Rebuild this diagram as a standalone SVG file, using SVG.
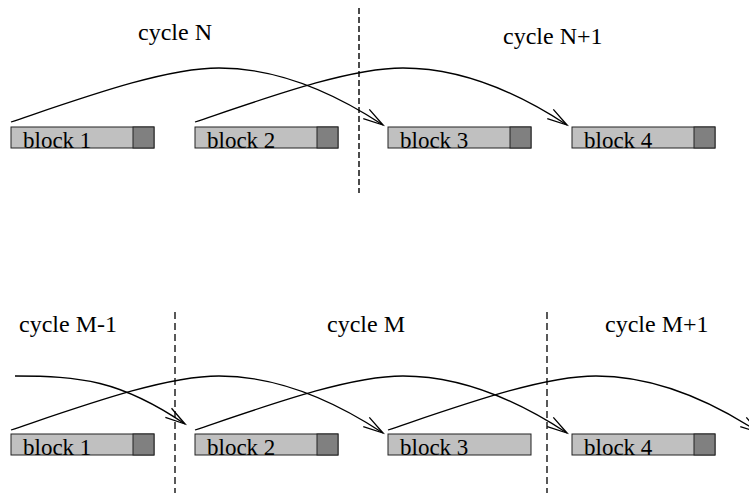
<svg xmlns="http://www.w3.org/2000/svg" width="749" height="493" viewBox="0 0 749 493">
<style>
.blk{fill:#c0c0c0;stroke:#222;stroke-width:1}
.tail{fill:#808080;stroke:#222;stroke-width:1}
.lbl{font-family:"Liberation Serif","Times New Roman",serif;font-size:23px;fill:#000}
.cyc{font-family:"Liberation Serif","Times New Roman",serif;font-size:24px;fill:#000}
.arc{fill:none;stroke:#000;stroke-width:1.3;marker-end:url(#arr)}
.dash1{stroke:#111;stroke-width:1.5;stroke-dasharray:6,3}
.dash2{stroke:#000;stroke-width:1.3;stroke-dasharray:7,4}
</style>
<defs>
<marker id="arr" markerUnits="userSpaceOnUse" markerWidth="26" markerHeight="16" viewBox="-23 -8 26 16" refX="0" refY="0" orient="auto" overflow="visible">
<path d="M-20,-5.5 L0,0 L-20,5.5" fill="none" stroke="#000" stroke-width="1.3"/>
</marker>
</defs>
<rect width="749" height="493" fill="#fff"/>

<g id="dividers">
<line class="dash1" x1="359" y1="8" x2="359" y2="193"/>
<line class="dash2" x1="175" y1="312" x2="175" y2="493"/>
<line class="dash2" x1="547" y1="312" x2="547" y2="493"/>
</g>

<g id="labels">
<text class="cyc" x="138" y="40">cycle N</text>
<text class="cyc" x="503" y="44">cycle N+1</text>
<text class="cyc" x="19" y="332">cycle M-1</text>
<text class="cyc" x="327" y="332">cycle M</text>
<text class="cyc" x="605" y="332">cycle M+1</text>
</g>

<g id="top-block1"><rect class="blk" x="11" y="127" width="143" height="21"/><rect class="tail" x="133" y="127" width="21" height="21"/><text class="lbl" x="23" y="147.5">block 1</text></g>
<g id="top-block2"><rect class="blk" x="195" y="127" width="143" height="21"/><rect class="tail" x="317" y="127" width="21" height="21"/><text class="lbl" x="207" y="147.5">block 2</text></g>
<g id="top-block3"><rect class="blk" x="388" y="127" width="143" height="21"/><rect class="tail" x="510" y="127" width="21" height="21"/><text class="lbl" x="400" y="147.5">block 3</text></g>
<g id="top-block4"><rect class="blk" x="572" y="127" width="143" height="21"/><rect class="tail" x="694" y="127" width="21" height="21"/><text class="lbl" x="584" y="147.5">block 4</text></g>

<g id="bot-block1"><rect class="blk" x="11" y="434" width="143" height="21"/><rect class="tail" x="133" y="434" width="21" height="21"/><text class="lbl" x="23" y="454.5">block 1</text></g>
<g id="bot-block2"><rect class="blk" x="195" y="434" width="143" height="21"/><rect class="tail" x="317" y="434" width="21" height="21"/><text class="lbl" x="207" y="454.5">block 2</text></g>
<g id="bot-block3"><rect class="blk" x="388" y="434" width="143" height="21"/><text class="lbl" x="400" y="454.5">block 3</text></g>
<g id="bot-block4"><rect class="blk" x="572" y="434" width="143" height="21"/><rect class="tail" x="694" y="434" width="21" height="21"/><text class="lbl" x="584" y="454.5">block 4</text></g>

<g id="connectors">
<path class="arc" d="M11,122 C85,97 165,68 219,68 C285,68 345,100 383,125"/>
<path class="arc" d="M195,122 C269,97 349,68 403,68 C469,68 529,100 567,125"/>
<path class="arc" d="M15,376 C80,376 120,380 185,424"/>
<path class="arc" d="M11,430 C85,405 165,376 219,376 C285,376 345,408 383,433"/>
<path class="arc" d="M195,430 C269,405 349,376 403,376 C469,376 529,408 567,433"/>
<path class="arc" d="M388,430 C462,405 542,376 596,376 C662,376 722,408 760,433"/>
</g>
</svg>
